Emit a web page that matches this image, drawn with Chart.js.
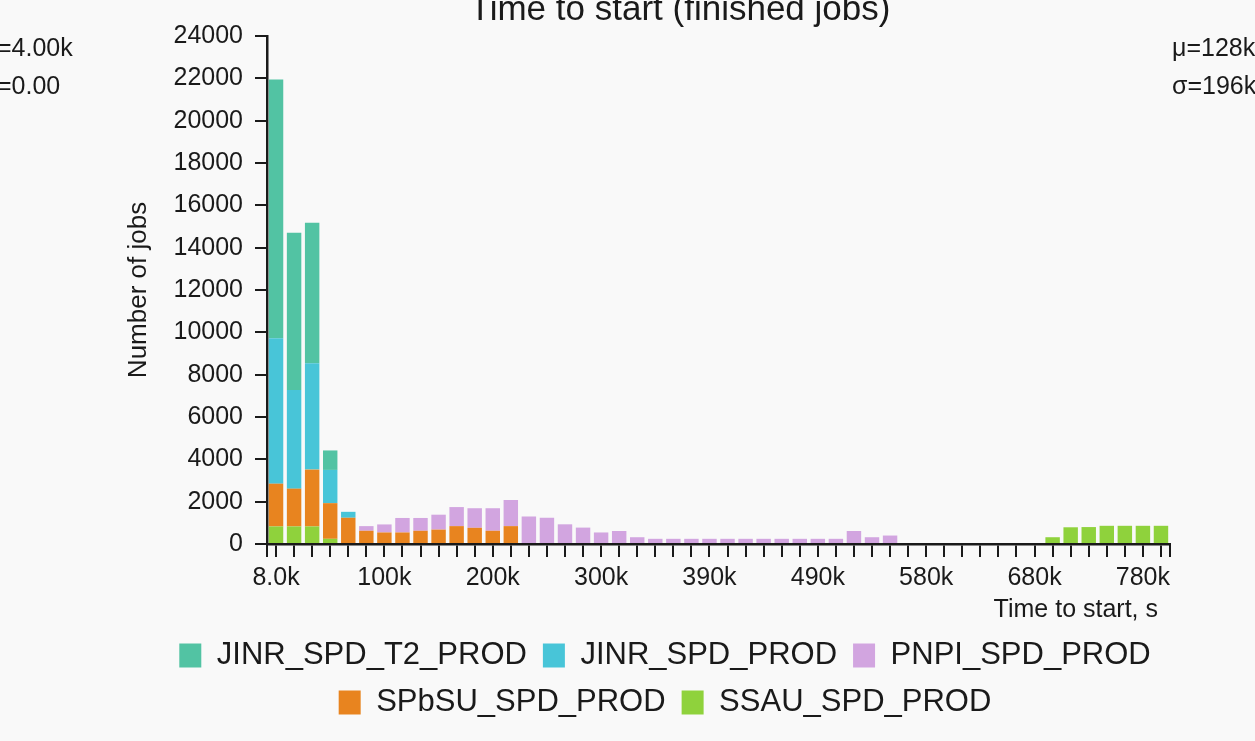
<!DOCTYPE html>
<html>
<head>
<meta charset="utf-8">
<script src="https://cdn.jsdelivr.net/npm/chart.js@4.4.1/dist/chart.umd.min.js"></script>
<style>
  html, body { margin: 0; padding: 0; background: #f9f9f9; }
  #wrap { width: 1255px; height: 741px; }
</style>
</head>
<body>
<div id="wrap"><canvas id="chart-time-to-start" width="1255" height="741"></canvas></div>
<script>
// ─── Time to start histogram ───
const titleText = 'Time to start (finished jobs)';
const xTitle = 'Time to start, s';
const yTitle = 'Number of jobs';
const statsLeft = ['=4.00k', '=0.00'];
const statsRight = ['\u03bc=128k', '\u03c3=196k'];

// bin labels (bin width 16k, first bin 8.0k)
const binLabels = [
  '8.0k','24k','40k','56k','72k','88k','100k','120k','140k','150k',
  '170k','180k','200k','220k','230k','250k','260k','280k','300k','310k',
  '330k','340k','360k','380k','390k','410k','420k','440k','460k','470k',
  '490k','500k','520k','540k','550k','570k','580k','600k','620k','630k',
  '650k','660k','680k','700k','710k','730k','740k','760k','780k','790k'
];

// jobs per bin, per site (stack bottom → top)
const ssau = [
  830, 830, 830, 245, 0, 0, 0, 0, 0, 0,
  0, 0, 0, 0, 0, 0, 0, 0, 0, 0,
  0, 0, 0, 0, 0, 0, 0, 0, 0, 0,
  0, 0, 0, 0, 0, 0, 0, 0, 0, 0,
  0, 0, 0, 320, 790, 800, 860, 860, 860, 860
];
const spbsu = [
  2020, 1785, 2685, 1685, 1240, 625, 545, 545, 625, 680,
  845, 765, 625, 845, 0, 0, 0, 0, 0, 0,
  0, 0, 0, 0, 0, 0, 0, 0, 0, 0,
  0, 0, 0, 0, 0, 0, 0, 0, 0, 0,
  0, 0, 0, 0, 0, 0, 0, 0, 0, 0
];
const pnpi = [
  0, 0, 0, 0, 0, 220, 380, 685, 605, 705,
  900, 925, 1065, 1235, 1300, 1240, 930, 775, 545, 615,
  320, 245, 245, 245, 245, 245, 245, 245, 245, 245,
  245, 245, 615, 320, 400, 0, 0, 0, 0, 0,
  0, 0, 0, 0, 0, 0, 0, 0, 0, 0
];
const jinrSpd = [
  6870, 4660, 5025, 1570, 280, 0, 0, 0, 0, 0,
  0, 0, 0, 0, 0, 0, 0, 0, 0, 0,
  0, 0, 0, 0, 0, 0, 0, 0, 0, 0,
  0, 0, 0, 0, 0, 0, 0, 0, 0, 0,
  0, 0, 0, 0, 0, 0, 0, 0, 0, 0
];
const jinrT2 = [
  12230, 7425, 6635, 920, 0, 0, 0, 0, 0, 0,
  0, 0, 0, 0, 0, 0, 0, 0, 0, 0,
  0, 0, 0, 0, 0, 0, 0, 0, 0, 0,
  0, 0, 0, 0, 0, 0, 0, 0, 0, 0,
  0, 0, 0, 0, 0, 0, 0, 0, 0, 0
];

const FONT = "'Liberation Sans', Arial, Helvetica, sans-serif";
const INK = '#1a1a1a';
Chart.defaults.font.family = FONT;
Chart.defaults.color = INK;

// title, stats, x title and d3-style outer ticks
const annotate = {
  id: 'annotate',
  afterDraw(chart) {
    const { ctx, scales: { x, y } } = chart;
    ctx.save();
    ctx.strokeStyle = INK;
    ctx.lineWidth = 2;
    ctx.beginPath();
    [x.left, x.right].forEach(px => {
      ctx.moveTo(px, y.bottom);
      ctx.lineTo(px, y.bottom + 13);
    });
    ctx.moveTo(x.left - 12, y.top);
    ctx.lineTo(x.left, y.top);
    ctx.stroke();

    ctx.fillStyle = INK;
    ctx.textBaseline = 'alphabetic';
    ctx.font = '35px ' + FONT;
    ctx.textAlign = 'center';
    ctx.fillText(titleText, 680, 20);

    ctx.font = '25px ' + FONT;
    ctx.textAlign = 'left';
    ctx.fillText(statsLeft[0], -3, 56);
    ctx.fillText(statsLeft[1], -3, 94);
    ctx.fillText(statsRight[0], 1172, 56);
    ctx.fillText(statsRight[1], 1172, 94);

    ctx.textAlign = 'right';
    ctx.textBaseline = 'middle';
    ctx.fillText(xTitle, x.right - 12, 610);
    ctx.restore();
  }
};

const mk = (label, data, color) => ({
  label, data,
  backgroundColor: color,
  borderWidth: 0,
  barPercentage: 0.8,
  categoryPercentage: 1.0,
});

new Chart(document.getElementById('chart-time-to-start'), {
  type: 'bar',
  data: {
    labels: binLabels,
    datasets: [
      mk('SSAU_SPD_PROD', ssau, '#8fd23c'),
      mk('SPbSU_SPD_PROD', spbsu, '#e8841f'),
      mk('PNPI_SPD_PROD', pnpi, '#d2a5e0'),
      mk('JINR_SPD_PROD', jinrSpd, '#48c5d8'),
      mk('JINR_SPD_T2_PROD', jinrT2, '#52c3a3'),
    ]
  },
  options: {
    responsive: false,
    animation: false,
    layout: { padding: { left: 160, right: 85, top: 36, bottom: 13 } },
    plugins: {
      legend: {
        position: 'bottom',
        reverse: true,
        labels: { font: { size: 31 }, boxWidth: 22, boxHeight: 24, padding: 16, color: INK }
      },
      tooltip: { enabled: false }
    },
    scales: {
      x: {
        stacked: true,
        afterFit: s => { s.height = 80; },
        ticks: {
          autoSkip: false, maxRotation: 0, padding: 6,
          font: { size: 25 }, color: INK,
          callback: (val, i) => i % 6 === 0 ? binLabels[i] : ''
        },
        grid: { offset: false, drawOnChartArea: false, drawTicks: true, tickLength: 13, color: INK, lineWidth: 2 },
        border: { display: true, color: INK, width: 2.5 }
      },
      y: {
        stacked: true,
        min: 0, max: 24000,
        afterFit: s => { s.width = 107; },
        ticks: {
          stepSize: 2000, padding: 12,
          font: { size: 25 }, color: INK,
          callback: v => String(v)
        },
        grid: { drawOnChartArea: false, drawTicks: true, tickLength: 12, color: INK, lineWidth: 2 },
        border: { display: true, color: INK, width: 2.5 },
        title: { display: true, text: yTitle, font: { size: 26 }, color: INK, padding: { top: -37, bottom: 0 } }
      }
    }
  },
  plugins: [annotate]
});
</script>
</body>
</html>
